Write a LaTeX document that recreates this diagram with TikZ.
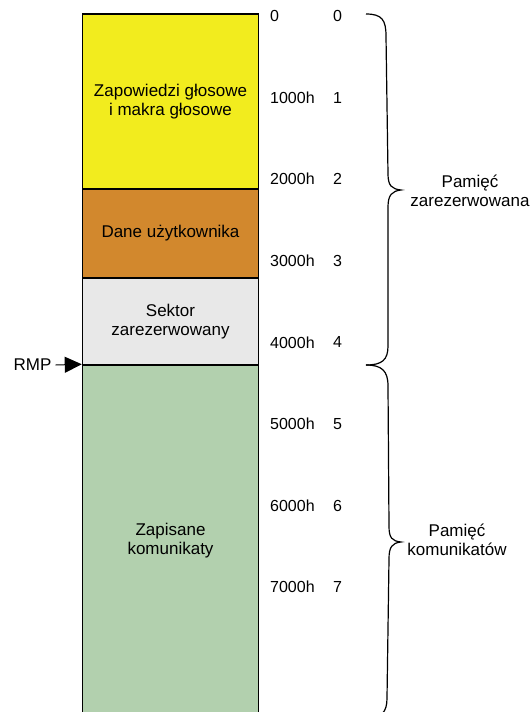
\documentclass[tikz,border=0pt]{standalone}
\usepackage{fontspec}
\setmainfont{Liberation Sans}
\usetikzlibrary{arrows.meta}
\definecolor{cyellow}{HTML}{F2EC1E}
\definecolor{corange}{HTML}{D2882D}
\definecolor{cgray}{HTML}{E8E8E8}
\definecolor{cgreen}{HTML}{B2D0AE}
\tikzset{
  memblock/.style={draw=black, line width=1.5pt, minimum width=176pt, inner sep=0pt, align=center, font=\fontsize{17}{19}\selectfont},
  addr/.style={anchor=west, inner sep=0pt, font=\fontsize{16}{18}\selectfont},
  bracelabel/.style={align=center, inner sep=0pt, font=\fontsize{17}{19}\selectfont},
  bracepath/.style={draw=black, line width=1.2pt},
}
\begin{document}
\begin{tikzpicture}[x=1pt,y=-1pt]
\clip (0,0) rectangle (532,712);
\fill[white] (0,0) rectangle (532,712);
% memory blocks
\node[memblock, fill=cyellow, minimum height=175pt] (yel) at (170.5,101.5) {Zapowiedzi głosowe\\i makra głosowe};
\node[memblock, fill=corange, minimum height=89pt] (ora) at (170.5,233.5) {Dane użytkownika};
\node[memblock, fill=cgray, minimum height=87pt] (gry) at (170.5,321.5) {Sektor\\zarezerwowany};
\node[memblock, fill=cgreen, minimum height=352pt] (grn) at (170.5,541) {Zapisane\\komunikaty};
% RMP marker
\node[inner sep=0pt, font=\fontsize{17}{19}\selectfont] (rmp) at (32.5,365) {RMP};
\draw[line width=1pt, -{Triangle[length=17pt,width=16pt]}] ([xshift=4pt]rmp.east) -- (grn.north west);
% addresses
\foreach \i/\t in {0/0,1/1000h,2/2000h,3/3000h,4/4000h,5/5000h,6/6000h,7/7000h}{
  \node[addr] (n\i) at (270,{16+81.6*\i}) {\t};
  \node[addr] (m\i) at (333,{16+81.6*\i}) {\i};
}
% braces
\draw[bracepath] (366,14) .. controls (382,14) and (386,20) .. (386,36)
  -- (388,174) .. controls (388,186) and (392,189) .. (401,190)
  .. controls (392,191) and (388,195) .. (388,207)
  -- (388,346) .. controls (388,360) and (382,365) .. (366,365);
\draw[bracepath] (366,365) .. controls (382,365) and (388,371) .. (388,386)
  -- (389,526) .. controls (389,538) and (392,541) .. (401,542)
  .. controls (392,543) and (389,547) .. (389,559)
  -- (387,698) .. controls (387,712) and (382,718) .. (366,718);
\node[bracelabel] (lab1) at (470,191) {Pamięć\\zarezerwowana};
\node[bracelabel] (lab2) at (457,540) {Pamięć\\komunikatów};
\end{tikzpicture}
\end{document}
